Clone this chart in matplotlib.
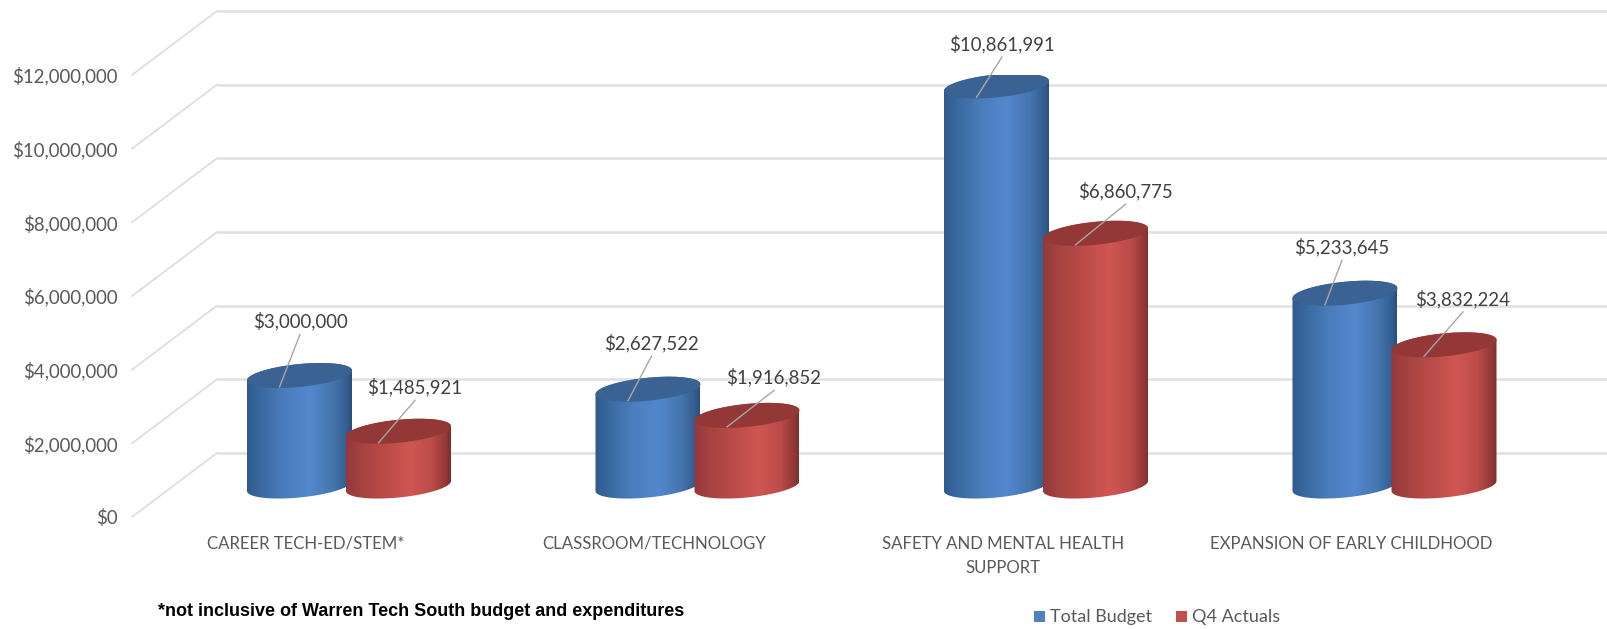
#!/usr/bin/env python

import numpy as np
import matplotlib
matplotlib.use("Agg")
import matplotlib.pyplot as plt
from matplotlib.colors import LinearSegmentedColormap
from matplotlib.patches import Polygon, Rectangle

categories = ["CAREER TECH-ED/STEM*", "CLASSROOM/TECHNOLOGY",
              "SAFETY AND MENTAL HEALTH\nSUPPORT", "EXPANSION OF EARLY CHILDHOOD"]
total_budget = [3000000, 2627522, 10861991, 5233645]
q4_actuals = [1485921, 1916852, 6860775, 3832224]
y_ticks = [0, 2000000, 4000000, 6000000, 8000000, 10000000, 12000000]

FIG_W, FIG_H = 1608, 629
Y0_PX, Y12_PX = 517, 75      # pixel rows of $0 and $12M on the front plane
CAT_PX = 348.5               # pixels between category centres
CAT0_PX = 349
LEFT_PX = 132

DOLLAR_PX = (12000000) / (Y0_PX - Y12_PX)   # dollars per pixel
px_x = lambda p: p / CAT_PX
px_y = lambda p: p * DOLLAR_PX

# (dx, dy) of each value label from the top of its cylinder, in pixels
blue_label_off = [(0.5, 54), (3.5, 46), (5.5, 42), (-3, 46)]
red_label_off = [(16.5, 44), (27, 38), (30, 42), (19, 46)]

fig = plt.figure(figsize=(FIG_W / 100, FIG_H / 100), dpi=100)
ax = fig.add_axes([LEFT_PX / FIG_W, (FIG_H - Y0_PX) / FIG_H,
                   (FIG_W - LEFT_PX) / FIG_W, (Y0_PX - Y12_PX) / FIG_H])
ax.set_xlim((LEFT_PX - CAT0_PX) / CAT_PX, (FIG_W - CAT0_PX) / CAT_PX)
ax.set_ylim(0, 12000000)
ax.patch.set_visible(False)
for s in ax.spines.values():
    s.set_visible(False)

font = "Lato"
text_c = "#595959"

# y axis
ax.set_yticks(y_ticks)
ax.set_yticklabels(["${:,}".format(v) for v in y_ticks], family=font, fontsize=13.4, color=text_c)
ax.tick_params(axis="y", length=0, pad=10.5)

# category labels sit on the front edge of the floor
cat_pos = [i - px_x(43) for i in range(len(categories))]
ax.set_xticks(cat_pos)
ax.set_xticklabels(categories, family=font, fontsize=12.1, color=text_c, linespacing=1.65)
ax.tick_params(axis="x", length=0, pad=13.5)

# gridlines: diagonal side wall, then along the back wall
depth_x, depth_y = px_x(85), px_y(64)
x_front = ax.get_xlim()[0]
for v in y_ticks:
    ax.plot([x_front, x_front + depth_x], [v, v + depth_y], color="#dcdcdc", lw=1.2, clip_on=False, zorder=1)
    ax.plot([x_front + depth_x, ax.get_xlim()[1]], [v + depth_y, v + depth_y], color="#e0e0e0", lw=1.8,
            clip_on=False, zorder=1, solid_capstyle="butt")

BASE_Y = px_y(31)       # floor height of the cylinder axis
RX = px_x(52.5)
RY = px_y(11.5)
TILT = px_y(5)          # the ellipses lean up to the right


def ellipse_pts(cx, cy, t):
    return cx + RX * np.cos(t), cy + TILT * np.cos(t) + RY * np.sin(t)


def draw_cyl(cx, val, stops, top_color, z):
    top_y = BASE_Y + val
    t_low = np.linspace(np.pi, 2 * np.pi, 60)
    t_up = np.linspace(0, np.pi, 60)
    # body outline: front of the bottom ellipse, then back over the top
    bx, by = ellipse_pts(cx, BASE_Y, t_low)
    tx, ty = ellipse_pts(cx, top_y, t_up)
    verts = np.column_stack([np.r_[bx, tx], np.r_[by, ty]])
    body = Polygon(verts, closed=True, transform=ax.transData, fc="none", ec="none")
    ax.add_patch(body)

    cmap = LinearSegmentedColormap.from_list("shade", stops)
    grad = np.linspace(0, 1, 256).reshape(1, -1)
    im = ax.imshow(grad, cmap=cmap, aspect="auto", zorder=z, interpolation="bilinear",
                   extent=[cx - RX, cx + RX, 0, top_y + RY + TILT])
    im.set_clip_path(body)

    # top face
    t = np.linspace(0, 2 * np.pi, 120)
    ex, ey = ellipse_pts(cx, top_y, t)
    ax.fill(ex, ey, color=top_color, zorder=z + 0.1, lw=0)


blue_stops = [(0, "#2f5a8e"), (0.12, "#39689f"), (0.35, "#4a7dbc"), (0.6, "#5388cd"),
              (0.82, "#4475ae"), (0.95, "#345f92"), (1, "#2b4f7c")]
red_stops = [(0, "#93383a"), (0.15, "#a64341"), (0.4, "#bd4c49"), (0.62, "#cf5653"),
             (0.82, "#bc4c49"), (0.94, "#973a38"), (1, "#7c302e")]
blue_top = "#3a6394"
red_top = "#933836"

bar_off = px_x(49.5)
for i in range(len(categories)):
    draw_cyl(i - bar_off, total_budget[i], blue_stops, blue_top, 3 + i * 0.01)
    draw_cyl(i + bar_off, q4_actuals[i], red_stops, red_top, 4 + i * 0.01)

# imshow resets the limits
ax.set_xlim((LEFT_PX - CAT0_PX) / CAT_PX, (FIG_W - CAT0_PX) / CAT_PX)
ax.set_ylim(0, 12000000)


def value_label(cx, val, off):
    top_y = BASE_Y + val
    lx, ly = cx + px_x(off[0]), top_y + px_y(off[1])
    ax.text(lx, ly, "${:,}".format(val), family=font, fontsize=13.4, color="#404040",
            ha="center", va="center", zorder=8, clip_on=False)
    # leader from under the label down to the near side of the top face
    ax.plot([lx, cx - px_x(20)], [ly - px_y(13), top_y - RY], color="#a6a6a6", lw=1,
            zorder=7, clip_on=False)


for i in range(len(categories)):
    value_label(i - bar_off, total_budget[i], blue_label_off[i])
    value_label(i + bar_off, q4_actuals[i], red_label_off[i])

fig.text(158 / FIG_W, 1 - 611 / FIG_H, "*not inclusive of Warren Tech South budget and expenditures",
         family="Liberation Sans", fontweight="bold", fontsize=13, color="black", va="center", ha="left")

# legend
legend_items = [("Total Budget", "#4f81bd", 1034), ("Q4 Actuals", "#c0504d", 1176)]
for name, c, x in legend_items:
    fig.add_artist(Rectangle((x / FIG_W, 1 - 622 / FIG_H), 11 / FIG_W, 11 / FIG_H, transform=fig.transFigure,
                             fc=c, ec="none"))
    fig.text((x + 16) / FIG_W, 1 - 617 / FIG_H, name, family=font, fontsize=13, color=text_c,
             va="center", ha="left")

fig.savefig("out.png", dpi=100)
